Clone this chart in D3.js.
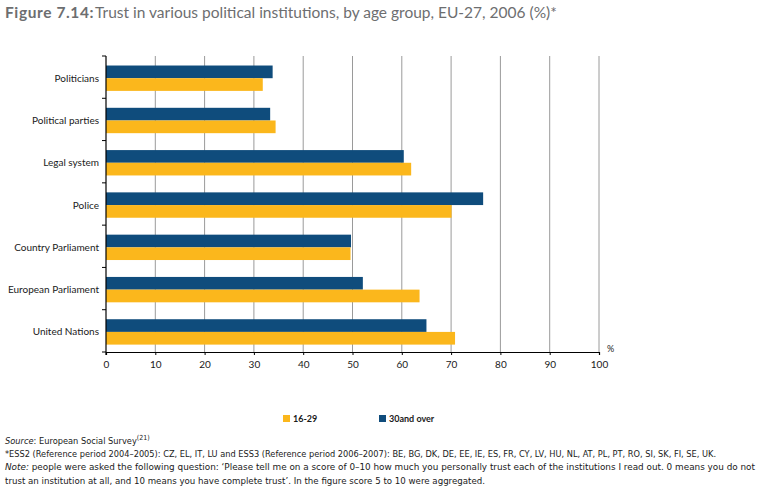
<!DOCTYPE html>
<html><head><meta charset="utf-8">
<script src="https://cdn.jsdelivr.net/npm/d3@7"></script>
<style>
html,body{margin:0;padding:0;background:#fff;}
svg{display:block;font-family:Lato,"Open Sans",sans-serif;}
</style></head>
<body><svg id="chart" width="757" height="493"></svg>
<script>
const categories = ["Politicians","Political parties","Legal system","Police","Country Parliament","European Parliament","United Nations"];
const seriesNames = ["30 and over","16-29"];
const legendLabels = ["16-29","30and over"];
const over30 = [33.8, 33.3, 60.4, 76.5, 49.7, 52.1, 65.0];
const age1629 = [31.8, 34.4, 61.9, 70.1, 49.6, 63.6, 70.8];
const xTicks = [0,10,20,30,40,50,60,70,80,90,100];
const colors = {"30 and over":"#0f4c7c","16-29":"#fbb71c"};

const svg = d3.select("#chart");
const pLeft = 106, pRight = 599, pTop = 56, pBottom = 352;

const x = d3.scaleLinear().domain([0,100]).range([pLeft,pRight]);
const y0 = d3.scaleBand().domain(categories).range([pTop,pBottom]).padding(0);
const y1 = d3.scaleBand().domain(seriesNames).range([y0.bandwidth()*0.225, y0.bandwidth()*0.825]).padding(0);

// Title
const title = svg.append("text").attr("x",5).attr("y",18).attr("fill","#6d6e70").attr("font-size",15.5);
title.append("tspan").attr("font-weight","bold").attr("letter-spacing","0.6").text("Figure 7.14:");
title.append("tspan").attr("dx",1).text("Trust in various political institutions, by age group, EU-27, 2006 (%)*");

// gridlines
svg.append("g").selectAll("line").data(xTicks.filter(d=>d>0)).join("line")
  .attr("x1",d=>x(d)).attr("x2",d=>x(d)).attr("y1",pTop).attr("y2",pBottom)
  .attr("stroke","#9a9a9a").attr("stroke-width",1);

// bars
const data = categories.map((c,i)=>({cat:c, vals:[{s:"30 and over",v:over30[i]},{s:"16-29",v:age1629[i]}]}));
const g = svg.append("g").selectAll("g").data(data).join("g")
  .attr("transform",d=>`translate(0,${y0(d.cat)})`);
g.selectAll("rect").data(d=>d.vals).join("rect")
  .attr("x",x(0)).attr("y",d=>y1(d.s)).attr("width",d=>x(d.v)-x(0)).attr("height",y1.bandwidth())
  .attr("fill",d=>colors[d.s]);

// category labels
svg.append("g").selectAll("text").data(categories).join("text")
  .attr("x",99).attr("y",d=>y0(d)+y0.bandwidth()*0.525+3.5)
  .attr("text-anchor","end").attr("font-size",10).attr("fill","#1a1a1a").text(d=>d);

// y axis line and ticks
svg.append("line").attr("x1",pLeft).attr("x2",pLeft).attr("y1",pTop).attr("y2",pBottom+3).attr("stroke","#000").attr("stroke-width",1.2);
svg.append("g").selectAll("line").data(categories.map(c=>y0(c)).concat([pBottom])).join("line")
  .attr("x1",pLeft-4).attr("x2",pLeft).attr("y1",d=>d).attr("y2",d=>d).attr("stroke","#000").attr("stroke-width",1);

// x axis
const xAxis = d3.axisBottom(x).tickValues(xTicks).tickSize(3).tickFormat(d3.format("d"));
const ax = svg.append("g").attr("transform",`translate(0,${pBottom})`).call(xAxis);
ax.select(".domain").attr("stroke","#000").attr("stroke-width",1.2);
ax.selectAll(".tick line").attr("stroke","#000");
ax.selectAll(".tick text").attr("font-family","Lato, sans-serif").attr("font-size",10).attr("fill","#1a1a1a").attr("y",9);

svg.append("text").attr("x",607).attr("y",352).attr("font-size",9).attr("fill","#1a1a1a").text("%");

// legend
const legX = [283, 379];
const leg = svg.append("g").selectAll("g").data(legendLabels).join("g");
leg.append("rect").attr("x",(d,i)=>legX[i]).attr("y",415).attr("width",7).attr("height",7)
  .attr("fill",(d,i)=>i===0?colors["16-29"]:colors["30 and over"]);
leg.append("text").attr("x",(d,i)=>legX[i]+10).attr("y",422).attr("font-size",9).attr("font-weight","bold").attr("fill","#1a1a1a").text(d=>d);

// footnotes
const fn = svg.append("g").attr("font-family","'Liberation Sans Narrow','DejaVu Sans Condensed',Lato,sans-serif").attr("font-size",9.2).attr("fill","#1a1a1a");
const l1 = fn.append("text").attr("x",5).attr("y",444);
l1.append("tspan").attr("font-style","italic").text("Source");
l1.append("tspan").text(": European Social Survey");
l1.append("tspan").attr("dy",-4).attr("font-size",7).text("(21)");
fn.append("text").attr("x",5).attr("y",457).attr("textLength",711).attr("lengthAdjust","spacingAndGlyphs")
  .text("*ESS2 (Reference period 2004–2005): CZ, EL, IT, LU and ESS3 (Reference period 2006–2007): BE, BG, DK, DE, EE, IE, ES, FR, CY, LV, HU, NL, AT, PL, PT, RO, SI, SK, FI, SE, UK.");
const l3 = fn.append("text").attr("x",5).attr("y",470).attr("textLength",750).attr("lengthAdjust","spacingAndGlyphs");
l3.append("tspan").attr("font-style","italic").text("Note:");
l3.append("tspan").text(" people were asked the following question: ‘Please tell me on a score of 0–10 how much you personally trust each of the institutions I read out. 0 means you do not");
fn.append("text").attr("x",5).attr("y",484).attr("textLength",480).attr("lengthAdjust","spacingAndGlyphs")
  .text("trust an institution at all, and 10 means you have complete trust’. In the figure score 5 to 10 were aggregated.");
</script></body></html>
